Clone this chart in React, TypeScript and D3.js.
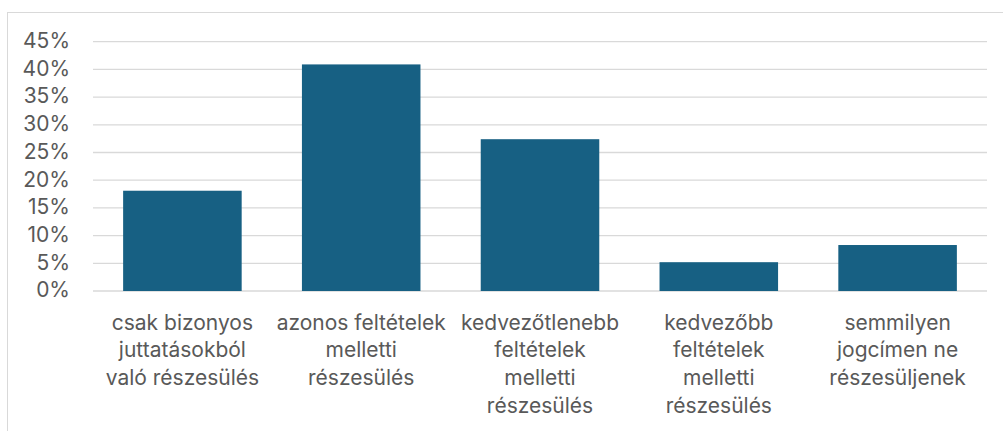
import React from "react";
import * as d3 from "d3";

const categories: string[][] = [
  ["csak bizonyos", "juttatásokból", "való részesülés"],
  ["azonos feltételek", "melletti", "részesülés"],
  ["kedvezőtlenebb", "feltételek", "melletti", "részesülés"],
  ["kedvezőbb", "feltételek", "melletti", "részesülés"],
  ["semmilyen", "jogcímen ne", "részesüljenek"],
];
const values: number[] = [0.181, 0.409, 0.274, 0.052, 0.083];
const yTicks: number[] = [0, 0.05, 0.1, 0.15, 0.2, 0.25, 0.3, 0.35, 0.4, 0.45];

const W = 1003;
const H = 431;
const left = 93;
const right = 987;
const top = 41.7;
const bottom = 291;
const FONT = "Inter, sans-serif";
const TEXT = "#595959";
const FS = 21;

export default function App() {
  const x = d3
    .scaleBand<number>()
    .domain(categories.map((_, i) => i))
    .range([left, right])
    .paddingInner(0.337)
    .paddingOuter(0.1685);
  const y = d3.scaleLinear().domain([0, 0.45]).range([bottom, top]);
  const fmt = d3.format(".0%");

  return (
    <svg
      width={W}
      height={H}
      style={{ position: "absolute", left: 0, top: 0, background: "#fff" }}
    >
      <rect x={7.5} y={12.5} width={W} height={H} fill="none" stroke="#d9d9d9" strokeWidth={1} />
      {yTicks.map((t) => (
        <g key={t}>
          <line x1={left} x2={right} y1={y(t)} y2={y(t)} stroke="#d9d9d9" strokeWidth={1.3} />
          <text
            x={70}
            y={y(t) - 1}
            dy="0.35em"
            textAnchor="end"
            fontFamily={FONT}
            fontSize={FS}
            fill={TEXT}
          >
            {fmt(t)}
          </text>
        </g>
      ))}
      {values.map((v, i) => (
        <rect
          key={i}
          x={x(i)}
          y={y(v)}
          width={x.bandwidth()}
          height={y(0) - y(v)}
          fill="#176083"
        />
      ))}
      {categories.map((lines, i) => (
        <text
          key={i}
          x={(x(i) as number) + x.bandwidth() / 2}
          y={330}
          textAnchor="middle"
          fontFamily={FONT}
          fontSize={FS}
          fill={TEXT}
        >
          {lines.map((l, j) => (
            <tspan key={j} x={(x(i) as number) + x.bandwidth() / 2} y={329.5 + j * 27.8}>
              {l}
            </tspan>
          ))}
        </text>
      ))}
    </svg>
  );
}
